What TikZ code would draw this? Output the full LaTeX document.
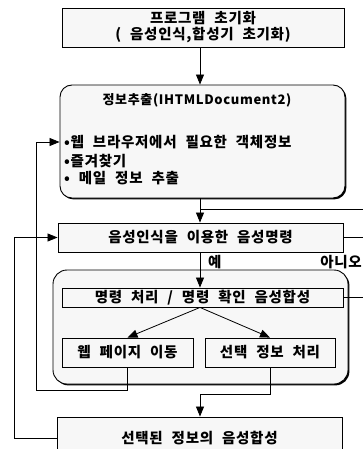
\documentclass[tikz,border=0pt]{standalone}
\usepackage{fontspec}
\newfontfamily\kr[LetterSpace=5,WordSpace=2.2]{Noto Sans CJK KR}
\usetikzlibrary{shadows,arrows.meta,positioning}
\tikzstyle{box}=[rectangle, draw=black, line width=0.9pt, fill=gray!6, inner sep=0pt, font=\kr\bfseries\fontsize{14.5}{16}\selectfont, drop shadow={shadow xshift=1.4pt, shadow yshift=-1.4pt, fill=black, opacity=1}]
\tikzstyle{rbox}=[box, rounded corners=12pt]
\tikzstyle{panel}=[box, rounded corners=14pt]
\tikzstyle{txt}=[inner sep=0pt, font=\kr\bfseries\fontsize{14.5}{16}\selectfont]
\tikzstyle{conn}=[line width=0.8pt]
\tikzstyle{arrow1}=[line width=0.8pt, -{Triangle[length=10pt,width=8pt]}]

\begin{document}
\begin{tikzpicture}[x=1pt,y=-1pt]
\useasboundingbox (0,0) rectangle (362,449);
%Row One
\node[box, minimum width=282pt, minimum height=39pt, align=center] (init) at (203,27.5){프로그램 초기화\\( 음성인식,합성기 초기화)};
\node[rbox, minimum width=285pt, minimum height=113pt] (extract) at (202.5,141.5){};
\node[txt, font=\kr\bfseries\fontsize{13}{16}\selectfont] (xt) at (197,100){정보추출(IHTMLDocument2)};
\node[txt, anchor=west] (b1) at (64,142){•웹 브라우저에서 필요한 객체정보};
\node[txt, anchor=west] (b2) at (64,161){•즐겨찾기};
\node[txt, anchor=west] (b3) at (64,178){• 메일 정보 추출};
\node[box, minimum width=285pt, minimum height=29pt] (voice) at (200.5,237.5){음성인식을 이용한 음성명령};
%Group
\node[panel, minimum width=295pt, minimum height=114pt] (grp) at (200.5,327){};
\node[box, minimum width=281pt, minimum height=19pt] (cmd) at (202.5,297.5){명령 처리 / 명령 확인 음성합성};
\node[box, minimum width=131pt, minimum height=29pt] (web) at (127.5,352.5){웹 페이지 이동};
\node[box, minimum width=130pt, minimum height=29pt] (sel) at (270,352.5){선택 정보 처리};
%Last row
\node[box, minimum width=285pt, minimum height=43pt] (tts) at (199.5,438.5){선택된 정보의 음성합성};
\node[txt, anchor=west] (yes) at (208,262){예};
\node[txt, anchor=east] (no) at (362,262){아니오};
%Arrows
\coordinate (jn) at (200,209);
\coordinate (rt) at (365,0);
\coordinate (loopA) at (36,390);
\coordinate (loopB) at (14,0);
\coordinate (jn2) at (200,394);
\draw[arrow1] (init.south -| jn) -- (extract.north -| jn);
\draw[arrow1] (extract.south -| jn) -- (voice.north -| jn);
\draw[conn] (voice.east) -- (voice.east -| rt) |- (jn);
\draw[conn] (cmd.east) -- (cmd.east -| rt) -- (voice.east -| rt);
\draw[arrow1] (voice.south -| jn) -- (cmd.north -| jn);
\draw[arrow1] (cmd.south -| jn) -- (web.north);
\draw[arrow1] (cmd.south -| jn) -- (sel.north);
\draw[arrow1] (web.south) |- (loopA) |- (extract.west |- b1);
\draw[arrow1] (sel.south) |- (jn2) -- (tts.north -| jn2);
\draw[arrow1] (tts.west) -| (voice.west -| loopB) -- (voice.west);
\end{tikzpicture}
\end{document}
